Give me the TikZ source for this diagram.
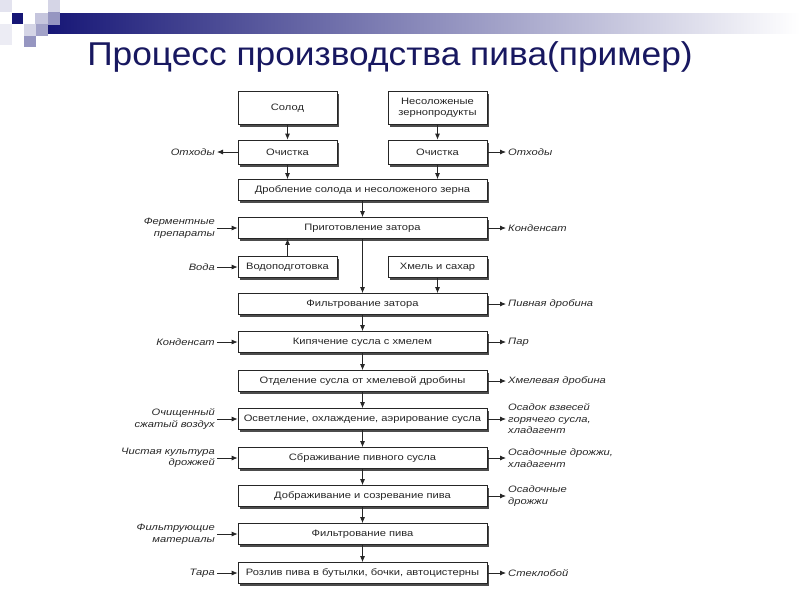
\documentclass[tikz,border=0pt]{standalone}
\usepackage{fontspec}
\setmainfont{Liberation Sans}
\newfontfamily\boxfont[FakeStretch=1.2]{Liberation Sans}
\newfontfamily\headfont[FakeStretch=1.07]{Liberation Sans}
\usetikzlibrary{shadows,arrows.meta}
\definecolor{barblue}{RGB}{22,22,118}
\definecolor{titleblue}{RGB}{24,24,96}
\tikzset{
  stage/.style={draw=black!85, line width=0.7pt, fill=white, inner sep=1pt,
    font=\boxfont\fontsize{9.3}{10.5}\selectfont, text=black!85, align=center,
    drop shadow={shadow xshift=2pt, shadow yshift=-2.5pt, fill=black!70, opacity=1}},
  narrow/.style={stage, minimum width=99pt},
  wide/.style={stage, minimum width=249pt, minimum height=21pt},
  inlbl/.style={font=\boxfont\itshape\fontsize{9.3}{11.5}\selectfont, text=black!85, align=right, anchor=east, inner sep=2pt},
  outlbl/.style={font=\boxfont\itshape\fontsize{9.3}{11.5}\selectfont, text=black!85, align=left, anchor=west, inner sep=2pt},
  arr/.style={-{Latex[length=6pt,width=5pt]}, line width=0.8pt, black!85}
}
\begin{document}
\begin{tikzpicture}[x=1pt,y=-1pt]
\useasboundingbox (0,0) rectangle (800,600);

% header
\shade[left color=barblue, right color=white] (46,13) rectangle (800,33);
\fill[barblue] (12,13) rectangle (23,24);
\fill[barblue!12] (0,0) rectangle (12,12);
\fill[barblue!25] (35,13) rectangle (48,25);
\fill[barblue!18] (48,0) rectangle (60,12);
\fill[barblue!45] (48,12) rectangle (60,25);
\fill[barblue!18] (24,24) rectangle (36,36);
\fill[barblue!40] (36,24) rectangle (48,36);
\fill[barblue!45] (24,36) rectangle (36,47);
\fill[barblue!8] (0,24) rectangle (12,45);
\node[text=titleblue, font=\headfont\fontsize{33}{38}\selectfont] (title) at (390,57) {Процесс производства пива(пример)};

% raw materials
\node [narrow, minimum height=33pt] (solod) at (287.5,108) {Солод};
\node [narrow, minimum height=33pt] (zerno) at (437.5,108) {Несоложеные\\зернопродукты};
\node [narrow, minimum height=24pt] (och1) at (287.5,152) {Очистка};
\node [narrow, minimum height=24pt] (och2) at (437.5,152) {Очистка};
\node [wide] (drob) at (362.5,190) {Дробление солода и несоложеного зерна};
\node [wide] (prig) at (362.5,228) {Приготовление затора};
\node [narrow, minimum height=21pt] (vodo) at (287.5,267) {Водоподготовка};
\node [narrow, minimum height=21pt] (hmel) at (437.5,267) {Хмель и сахар};
\node [wide] (filz) at (362.5,304) {Фильтрование затора};
\node [wide] (kip) at (362.5,342) {Кипячение сусла с хмелем};
\node [wide] (otd) at (362.5,381) {Отделение сусла от хмелевой дробины};
\node [wide] (osv) at (362.5,419) {Осветление, охлаждение, аэрирование сусла};
\node [wide] (sbr) at (362.5,458) {Сбраживание пивного сусла};
\node [wide] (dobr) at (362.5,496) {Дображивание и созревание пива};
\node [wide] (filp) at (362.5,534) {Фильтрование пива};
\node [wide] (rozl) at (362.5,573) {Розлив пива в бутылки, бочки, автоцистерны};

\draw [arr] (solod) -- (och1);
\draw [arr] (zerno) -- (och2);
\draw [arr] (och1.south) -- (och1.south |- drob.north);
\draw [arr] (och2.south) -- (och2.south |- drob.north);
\draw [arr] (drob) -- (prig);
\draw [arr] (vodo.north) -- (vodo.north |- prig.south);
\draw [arr] (hmel.south) -- (hmel.south |- filz.north);
\draw [arr] (prig) -- (filz);
\draw [arr] (filz) -- (kip);
\draw [arr] (kip) -- (otd);
\draw [arr] (otd) -- (osv);
\draw [arr] (osv) -- (sbr);
\draw [arr] (sbr) -- (dobr);
\draw [arr] (dobr) -- (filp);
\draw [arr] (filp) -- (rozl);

% inputs
\node [inlbl] (otx1) at (217,152) {Отходы};
\node [inlbl] (ferm) at (217,228) {Ферментные\\препараты};
\node [inlbl] (voda) at (217,267) {Вода};
\node [inlbl] (kond1) at (217,342) {Конденсат};
\node [inlbl] (vozd) at (217,419) {Очищенный\\сжатый воздух};
\node [inlbl] (kult) at (217,458) {Чистая культура\\дрожжей};
\node [inlbl] (mat) at (217,534) {Фильтрующие\\материалы};
\node [inlbl] (tara) at (217,573) {Тара};
\draw [arr] (och1) -- (otx1);
\draw [arr] (ferm) -- (prig);
\draw [arr] (voda) -- (vodo);
\draw [arr] (kond1) -- (kip);
\draw [arr] (vozd) -- (osv);
\draw [arr] (kult) -- (sbr);
\draw [arr] (mat) -- (filp);
\draw [arr] (tara) -- (rozl);

% outputs
\node [outlbl] (otx2) at (506,152) {Отходы};
\node [outlbl] (kond2) at (506,228) {Конденсат};
\node [outlbl] (drobina) at (506,304) {Пивная дробина};
\node [outlbl] (par) at (506,342) {Пар};
\node [outlbl] (hdrob) at (506,381) {Хмелевая дробина};
\node [outlbl] (osad) at (506,419) {Осадок взвесей\\горячего сусла,\\хладагент};
\node [outlbl] (drozh1) at (506,458) {Осадочные дрожжи,\\хладагент};
\node [outlbl] (drozh2) at (506,496) {Осадочные\\дрожжи};
\node [outlbl] (stek) at (506,573) {Стеклобой};
\draw [arr] (och2) -- (otx2);
\draw [arr] (prig) -- (kond2);
\draw [arr] (filz) -- (drobina);
\draw [arr] (kip) -- (par);
\draw [arr] (otd) -- (hdrob);
\draw [arr] (osv) -- (osad);
\draw [arr] (sbr) -- (drozh1);
\draw [arr] (dobr) -- (drozh2);
\draw [arr] (rozl) -- (stek);
\end{tikzpicture}
\end{document}
